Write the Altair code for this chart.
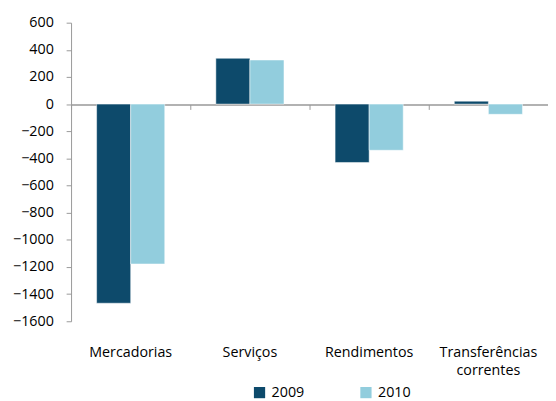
import altair as alt
import pandas as pd

categories = ["Mercadorias", "Serviços", "Rendimentos", "Transferências|correntes"]
years = ["2009", "2010"]
values_2009 = [-1467, 338, -430, 22]
values_2010 = [-1178, 325, -340, -75]

rows = []
for c, a, b in zip(categories, values_2009, values_2010):
    rows.append({"cat": c, "year": "2009", "value": a})
    rows.append({"cat": c, "year": "2010", "value": b})
df = pd.DataFrame(rows)

FONT = "Open Sans"
FS = 14.5
AX = "#999999"

xscale = alt.Scale(domain=categories, paddingInner=0.0, paddingOuter=0.0)
yscale = alt.Scale(domain=[-1600, 600], nice=False)

bars = alt.Chart(df).mark_bar(stroke="white", strokeWidth=0.5).encode(
    x=alt.X("cat:N", scale=xscale, sort=categories,
            axis=alt.Axis(title=None, domain=False, ticks=False, labelAngle=0,
                          labelPadding=25, labelFontSize=FS, labelFont=FONT,
                          labelColor="#000000", labelLineHeight=18,
                          labelExpr="split(datum.label, '|')")),
    xOffset=alt.XOffset("year:N", scale=alt.Scale(paddingInner=0, paddingOuter=0.75)),
    y=alt.Y("value:Q", scale=yscale,
            axis=alt.Axis(title=None, values=list(range(-1600, 601, 200)), grid=False,
                          format="d",
                          domainColor=AX, tickColor=AX, tickSize=5, labelPadding=13,
                          labelFontSize=FS, labelFont=FONT, labelColor="#000000")),
    color=alt.Color("year:N", scale=alt.Scale(domain=years, range=["#0D4A6B", "#92CDDD"]),
                    legend=alt.Legend(title=None, orient="none", direction="horizontal",
                                      legendX=184, legendY=368, symbolType="square",
                                      symbolSize=130, symbolStrokeWidth=0,
                                      labelFontSize=FS, labelFont=FONT, labelColor="#000000",
                                      columnPadding=55, labelOffset=5)),
)

zero_axis = alt.Chart(df).mark_tick(opacity=0).encode(
    x=alt.X("cat:N", scale=xscale, sort=categories,
            axis=alt.Axis(title=None, labels=False, orient="bottom",
                          domainColor=AX, domainWidth=1.5,
                          tickColor=AX, tickSize=5, tickBand="extent",
                          offset=-220)),
)

chart = alt.layer(bars, zero_axis).resolve_axis(x="independent").properties(
    width=484, height=303,
    autosize=alt.AutoSizeParams(type="none"),
    padding={"left": 64, "top": 12, "right": 0, "bottom": 78},
).configure_view(stroke=None)

chart.save("out.html", embed_options={"renderer": "svg", "actions": False})
